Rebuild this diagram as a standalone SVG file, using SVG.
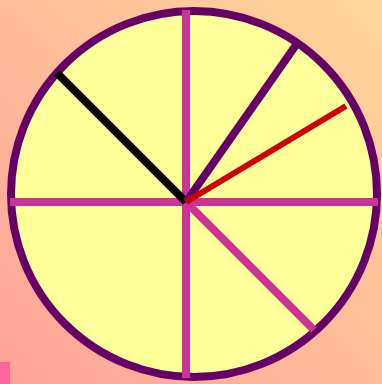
<svg xmlns="http://www.w3.org/2000/svg" width="382" height="384" viewBox="0 0 382 384">
<defs>
<linearGradient id="bg" x1="0" y1="1" x2="1" y2="0">
<stop offset="0" stop-color="#ffa299"/>
<stop offset="1" stop-color="#ffd699"/>
</linearGradient>
<style>
.hand{fill:none;stroke-linecap:butt}
.mag{stroke:#cc3399;stroke-width:8}
</style>
</defs>
<rect x="0" y="0" width="382" height="384" fill="url(#bg)"/>
<rect x="0" y="362" width="10" height="22" fill="#ff6699"/>
<g id="dial">
<circle cx="194" cy="194" r="183" fill="#ffff99" stroke="#660066" stroke-width="8"/>
</g>
<g id="connectors">
<line class="hand mag" x1="10" y1="202" x2="378" y2="202"/>
<line class="hand mag" x1="186" y1="10" x2="186" y2="378"/>
<line class="hand mag" x1="186" y1="202" x2="314" y2="330"/>
<line class="hand" stroke="#000000" stroke-width="8" x1="186" y1="202" x2="57" y2="73"/>
<line class="hand" stroke="#660066" stroke-width="8" x1="186" y1="202" x2="296" y2="45"/>
<line class="hand" stroke="#cc0000" stroke-width="6" x1="186" y1="202" x2="346" y2="106"/>
</g>
</svg>
